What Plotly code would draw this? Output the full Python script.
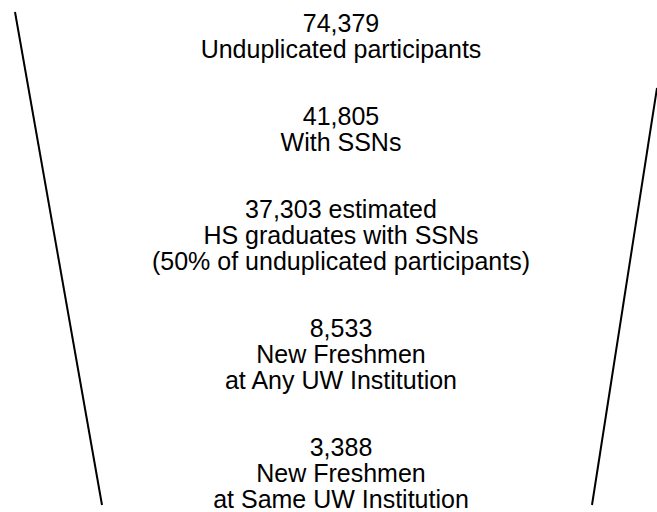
import plotly.graph_objects as go

# Funnel stages
stage_values = ["74,379", "41,805", "37,303 estimated", "8,533", "3,388"]
stage_labels = [
    ["Unduplicated participants"],
    ["With SSNs"],
    ["HS graduates with SSNs", "(50% of unduplicated participants)"],
    ["New Freshmen", "at Any UW Institution"],
    ["New Freshmen", "at Same UW Institution"],
]
# vertical position (pixel row of the first text line) of each stage
stage_y = [26, 119, 212, 331, 450]
LINE_GAP = 25.7

# funnel outline (pixel coordinates of the two edge lines)
left_edge_x = [15, 102]
left_edge_y = [12, 505]
right_edge_x = [657, 592]
right_edge_y = [88, 505]

W, H = 657, 512
CX = 341

fig = go.Figure()
fig.add_trace(go.Scatter(x=left_edge_x, y=left_edge_y, mode="lines",
                         line=dict(color="black", width=2), hoverinfo="skip"))
fig.add_trace(go.Scatter(x=right_edge_x, y=right_edge_y, mode="lines",
                         line=dict(color="black", width=2), hoverinfo="skip"))

text_x, text_y, text_s = [], [], []
for val, labels, y0 in zip(stage_values, stage_labels, stage_y):
    for i, line in enumerate([val] + labels):
        text_x.append(CX)
        text_y.append(y0 + i * LINE_GAP)
        text_s.append(line)

fig.add_trace(go.Scatter(x=text_x, y=text_y, text=text_s, mode="text",
                         textposition="middle center", cliponaxis=False,
                         textfont=dict(family="Liberation Sans, Arial",
                                       size=25, color="black"),
                         hoverinfo="skip"))

fig.update_xaxes(range=[0, W], visible=False, fixedrange=True)
fig.update_yaxes(range=[H, 0], visible=False, fixedrange=True)
fig.update_layout(width=W, height=H, margin=dict(l=0, r=0, t=0, b=0),
                  plot_bgcolor="white", paper_bgcolor="white", showlegend=False)

fig.write_html("out.html", config={"displayModeBar": False},
               post_script="document.body.style.margin='0';document.body.style.overflow='hidden';")
